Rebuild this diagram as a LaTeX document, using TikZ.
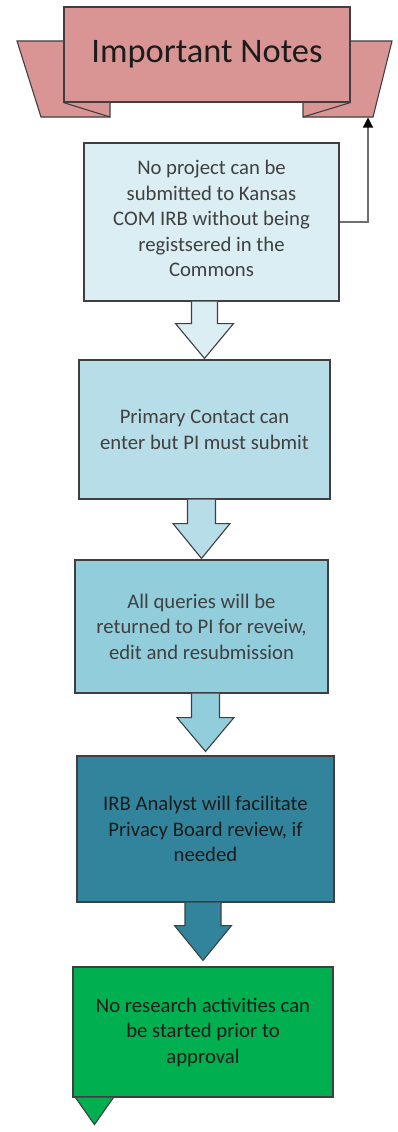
\documentclass[tikz,border=0pt]{standalone}
\usepackage{fontspec}
\setmainfont{Carlito}
\usetikzlibrary{calc,arrows.meta}

\definecolor{bannerfill}{HTML}{D99594}
\definecolor{fillA}{HTML}{DAEEF3}
\definecolor{fillB}{HTML}{B7DEE8}
\definecolor{fillC}{HTML}{92CDDC}
\definecolor{fillD}{HTML}{31849B}
\definecolor{fillE}{HTML}{00B050}
\definecolor{edge}{HTML}{3F3F3F}
\definecolor{textgray}{HTML}{404040}
\definecolor{textdark}{HTML}{1C1C1C}
\definecolor{linkgray}{HTML}{6E6E6E}

% block arrow from the bottom of #1 to just above the top of #2
% #3 shaft half width, #4 head half width, #5 shaft length, #6 gap, #7 fill
\newcommand\flowarrow[7]{%
  \coordinate (fa-s) at (#2.north |- #1.south);
  \coordinate (fa-t) at ($(#2.north)+(0,-#6)$);
  \filldraw[shape edge, fill=#7]
    ($(fa-s)+(-#3,0)$) -- ($(fa-s)+(-#3,#5)$) -- ($(fa-s)+(-#4,#5)$) --
    (fa-t) --
    ($(fa-s)+(#4,#5)$) -- ($(fa-s)+(#3,#5)$) -- ($(fa-s)+(#3,0)$);
}

\begin{document}
\begin{tikzpicture}[x=1pt,y=-1pt,
  shape edge/.style={draw=edge, line width=1.1pt, line join=miter},
  notebox/.style={shape edge, rectangle, align=center, inner sep=0pt,
    font=\fontsize{20.7}{25.5}\selectfont},
  notetext/.style={align=center, inner sep=0pt, font=\fontsize{20.7}{25.5}\selectfont},
  link/.style={draw=linkgray, line width=1.2pt}]
\useasboundingbox (0,0) rectangle (398,1132);

% ribbon banner: wings behind the title panel
\filldraw[shape edge, fill=bannerfill] (17,41) -- (110,41) -- (110,117) -- (41,117) -- cycle;
\filldraw[shape edge, fill=bannerfill] (392,41) -- (303,41) -- (303,117) -- (373,117) -- cycle;
\node[shape edge, rectangle, fill=bannerfill, minimum width=286pt, minimum height=95pt,
  inner sep=0pt, text=textdark, font=\fontsize{34.4}{40}\selectfont]
  (banner) at (207,54.5) {Important Notes};
\draw[shape edge] (banner.south west) -- (110,117);
\draw[shape edge] (banner.south east) -- (303,117);
\coordinate (wingtip) at (368,117.5);

% note boxes
\node[notebox, fill=fillA, minimum width=255pt, minimum height=158pt] (b1) at (211.5,222) {};
\node[notetext, text=textgray] (b1text) at ($(b1.center)+(0,-3.5)$)
  {No project can be\\ submitted to Kansas\\ COM IRB without being\\ registsered in the\\ Commons};
\node[notebox, fill=fillB, text=textgray, minimum width=251pt, minimum height=139pt]
  (b2) at (204.5,429.5) {Primary Contact can\\ enter but PI must submit};
\node[notebox, fill=fillC, text=textgray, minimum width=253pt, minimum height=133pt]
  (b3) at (201.5,626.5) {All queries will be\\ returned to PI for reveiw,\\ edit and resubmission};
\node[notebox, fill=fillD, text=textdark, minimum width=257pt, minimum height=146pt]
  (b4) at (205.5,829) {IRB Analyst will facilitate\\ Privacy Board review, if\\ needed};
\node[notebox, fill=fillE, text=textdark, minimum width=260pt, minimum height=130pt]
  (b5) at (203,1032) {No research activities can\\ be started prior to\\ approval};

% link from the first note up to the banner wing
\draw[link, -{Triangle[width=10pt,length=10pt,color=black]}] (b1.east) -| (wingtip);

% block arrows between the notes
\flowarrow{b1}{b2}{13}{29}{22}{1}{fillA}
\flowarrow{b2}{b3}{14}{28.5}{24}{1}{fillB}
\flowarrow{b3}{b4}{14}{28.5}{24}{4}{fillC}
\flowarrow{b4}{b5}{18}{28.5}{23}{6}{fillD}

% pointer under the last note
\filldraw[shape edge, fill=fillE]
  ($(b5.south west)+(3,0)$) -- ($(b5.south west)+(22,27)$) -- ($(b5.south west)+(41,0)$);
\end{tikzpicture}
\end{document}
